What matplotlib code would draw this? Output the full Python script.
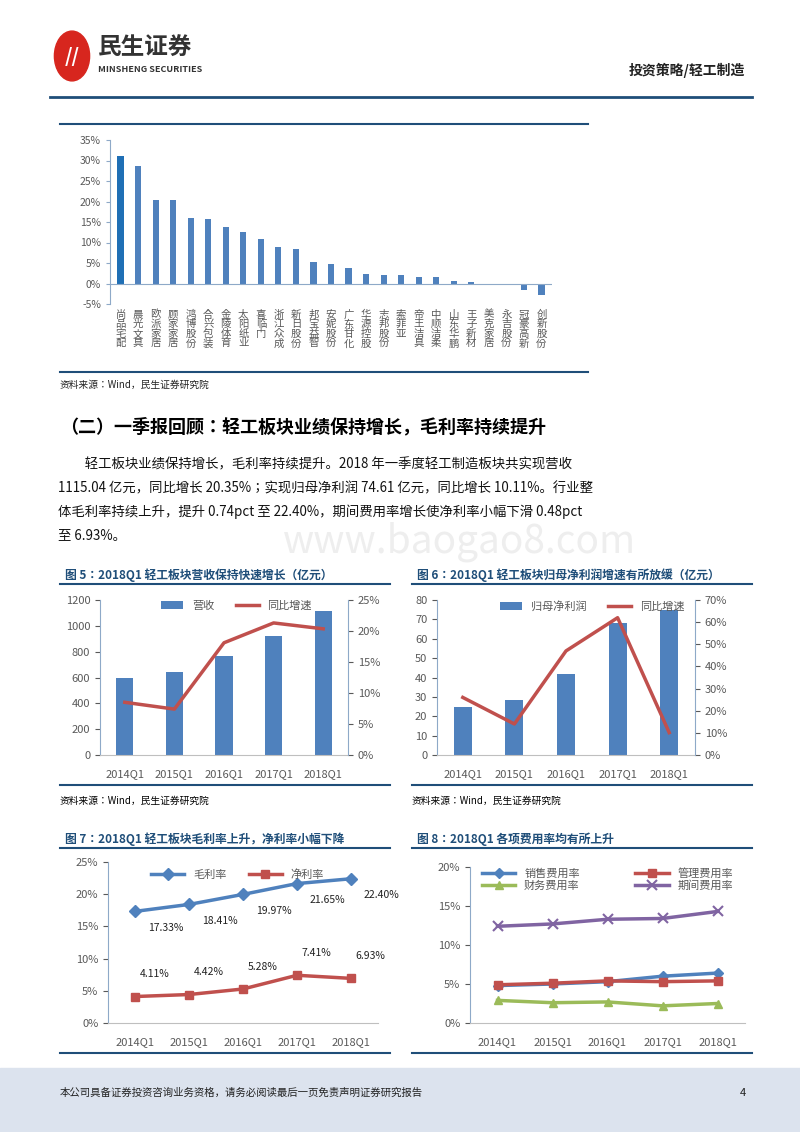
import matplotlib
matplotlib.use("Agg")
import matplotlib.pyplot as plt
from matplotlib import font_manager as fm
from matplotlib.patches import Rectangle, Circle
from matplotlib.lines import Line2D
import numpy as np

names = sorted({f.name for f in fm.fontManager.ttflist if 'CJK' in f.name})
sans = next((n for n in names if 'Sans' in n and 'SC' in n), None) or next((n for n in names if 'Sans' in n), None) or (names[0] if names else 'DejaVu Sans')
serif = next((n for n in names if 'Serif' in n and 'SC' in n), None) or sans
plt.rcParams['font.family'] = [sans, 'DejaVu Sans']

companies = ['尚品宅配','晨光文具','欧派家居','顾家家居','鸿博股份','合兴包装','金陵体育','太阳纸业','喜临门',
             '浙江众成','新日股份','邦宝益智','安妮股份','广东甘化','华源控股','志邦股份','索菲亚','帝王洁具',
             '中顺洁柔','山东华鹏','王子新材','美克家居','永吉股份','冠豪高新','创新股份']
company_growth = [31.2,28.6,20.3,20.3,15.9,15.7,13.9,12.5,10.9,8.8,8.3,5.3,4.8,3.9,2.3,2.1,2.0,1.5,1.5,0.7,0.4,0.0,-0.3,-1.5,-2.8]

quarters = ['2014Q1','2015Q1','2016Q1','2017Q1','2018Q1']
revenue = [600,645,765,925,1115.04]
revenue_yoy = [8.5,7.4,18.1,21.3,20.35]
profit = [25,28.5,42,68,74.61]
profit_yoy = [26,14,47,62,10.11]
gross_margin = [17.33,18.41,19.97,21.65,22.40]
net_margin = [4.11,4.42,5.28,7.41,6.93]
sales_exp = [4.8,5.0,5.3,6.0,6.4]
mgmt_exp = [4.9,5.1,5.4,5.3,5.4]
fin_exp = [2.9,2.6,2.7,2.2,2.5]
period_exp = [12.4,12.7,13.3,13.4,14.3]

W, H = 800, 1132
fig = plt.figure(figsize=(8, 11.32), dpi=100)
BLUE = '#4F81BD'; RED = '#C0504D'; GREEN = '#9BBB59'; PURPLE = '#8064A2'
DARK = '#1F4E79'; GRAY = '#595959'

def axpx(x0, y0, x1, y1, **kw):
    return fig.add_axes([x0/W, 1-y1/H, (x1-x0)/W, (y1-y0)/H], **kw)

def hline(x0, x1, y, color=DARK, lw=2):
    fig.add_artist(Line2D([x0/W, x1/W], [1-y/H, 1-y/H], color=color, lw=lw))

def txt(x, y, s, **kw):
    fig.text(x/W, 1-y/H, s, **kw)

# Header
fig.add_artist(Circle((72/W, 1-56/H), 0.022, transform=fig.transFigure, color='#D7261E'))
txt(72, 56, '//', ha='center', va='center', color='white', fontsize=14, fontweight='bold', style='italic')
txt(98, 48, '民生证券', fontsize=17, fontweight='bold', color='#333333', va='center')
txt(98, 70, 'MINSHENG SECURITIES', fontsize=6.5, fontweight='bold', color='#333333', va='center')
txt(745, 70, '投资策略/轻工制造', fontsize=10, fontweight='bold', ha='right', va='center', color='#222222', family=serif)
hline(50, 752, 97, DARK, 2)

# Top chart
hline(60, 588, 124, DARK, 1.5)
hline(60, 588, 372, DARK, 1.5)
ax = axpx(110, 140, 552, 304)
x = np.arange(len(companies))
cols = ['#1F6FB5'] + [BLUE]*(len(companies)-1)
ax.bar(x, company_growth, width=0.35, color=cols)
ax.set_ylim(-5, 35); ax.set_xlim(-0.6, len(companies)-0.4)
ax.set_yticks(range(-5, 36, 5))
ax.set_yticklabels([f'{v}%' for v in range(-5, 36, 5)], fontsize=7.5, color=GRAY)
ax.set_xticks(x); ax.set_xticklabels(['\n'.join(c) for c in companies], fontsize=7.5, color=GRAY, linespacing=0.95, va='top')
ax.spines[['top','right','bottom']].set_visible(False)
ax.spines['left'].set_color('#8EA9C8')
ax.axhline(0, color='#8EA9C8', lw=0.8)
ax.tick_params(axis='x', length=0, pad=4)
ax.tick_params(axis='y', length=3, color='#8EA9C8')
txt(60, 385, '资料来源：Wind，民生证券研究院', fontsize=7, va='center', color='#222222', family=serif)

# Section text
txt(60, 427, '（二）一季报回顾：轻工板块业绩保持增长，毛利率持续提升', fontsize=13, fontweight='bold', va='center', family=serif)
para = ['　　轻工板块业绩保持增长，毛利率持续提升。2018 年一季度轻工制造板块共实现营收',
        '1115.04 亿元，同比增长 20.35%；实现归母净利润 74.61 亿元，同比增长 10.11%。行业整',
        '体毛利率持续上升，提升 0.74pct 至 22.40%，期间费用率增长使净利率小幅下滑 0.48pct',
        '至 6.93%。']
for i, s in enumerate(para):
    txt(58, 464 + i*24, s, fontsize=9.6, va='center', color='#111111', family=serif)
txt(460, 542, 'www.baogao8.com', fontsize=28, ha='center', va='center', color='#EEEEEE', zorder=-1)

def chart_title(x0, x1, y, s):
    txt(x0+5, y, s, fontsize=8.5, fontweight='bold', color=DARK, va='center', family=serif)
    hline(x0, x1, y+9, DARK, 1.5)

def style(ax):
    for s in ['top','right']:
        ax.spines[s].set_visible(False)
    ax.spines['left'].set_color('#8EA9C8'); ax.spines['bottom'].set_color('#BFBFBF')
    ax.tick_params(colors=GRAY, labelsize=8)
    ax.tick_params(axis='x', length=0, pad=10)

# Fig 5
chart_title(60, 390, 575, '图 5：2018Q1 轻工板块营收保持快速增长（亿元）')
ax = axpx(100, 600, 348, 755)
xs = np.arange(5)
ax.bar(xs, revenue, width=0.35, color=BLUE, label='营收')
ax.set_ylim(0, 1200); ax.set_yticks(range(0, 1201, 200)); ax.set_xlim(-0.5, 4.5)
ax.set_xticks(xs); ax.set_xticklabels(quarters)
style(ax)
ax2 = ax.twinx()
ax2.plot(xs, revenue_yoy, color=RED, lw=2.5, label='同比增速')
ax2.set_ylim(0, 25); ax2.set_yticks(range(0, 26, 5)); ax2.set_yticklabels([f'{v}%' for v in range(0, 26, 5)])
for s in ['top','left','bottom']: ax2.spines[s].set_visible(False)
ax2.spines['right'].set_color('#8EA9C8'); ax2.tick_params(colors=GRAY, labelsize=8)
h1, l1 = ax.get_legend_handles_labels(); h2, l2 = ax2.get_legend_handles_labels()
ax.legend(h1+h2, l1+l2, loc='upper center', ncol=2, frameon=False, fontsize=8, bbox_to_anchor=(0.55, 1.06), labelcolor=GRAY)
hline(60, 390, 785, DARK, 1.5)
txt(60, 801, '资料来源：Wind，民生证券研究院', fontsize=7, va='center', family=serif)

# Fig 6
chart_title(412, 752, 575, '图 6：2018Q1 轻工板块归母净利润增速有所放缓（亿元）')
ax = axpx(437, 600, 695, 755)
ax.bar(xs, profit, width=0.35, color=BLUE, label='归母净利润')
ax.set_ylim(0, 80); ax.set_yticks(range(0, 81, 10)); ax.set_xlim(-0.5, 4.5)
ax.set_xticks(xs); ax.set_xticklabels(quarters)
style(ax)
ax2 = ax.twinx()
ax2.plot(xs, profit_yoy, color=RED, lw=2.5, label='同比增速')
ax2.set_ylim(0, 70); ax2.set_yticks(range(0, 71, 10)); ax2.set_yticklabels([f'{v}%' for v in range(0, 71, 10)])
for s in ['top','left','bottom']: ax2.spines[s].set_visible(False)
ax2.spines['right'].set_color('#8EA9C8'); ax2.tick_params(colors=GRAY, labelsize=8)
h1, l1 = ax.get_legend_handles_labels(); h2, l2 = ax2.get_legend_handles_labels()
ax.legend(h1+h2, l1+l2, loc='upper center', ncol=2, frameon=False, fontsize=8, bbox_to_anchor=(0.6, 1.06), labelcolor=GRAY)
hline(412, 752, 785, DARK, 1.5)
txt(412, 801, '资料来源：Wind，民生证券研究院', fontsize=7, va='center', family=serif)

# Fig 7
chart_title(60, 390, 839, '图 7：2018Q1 轻工板块毛利率上升，净利率小幅下降')
ax = axpx(108, 862, 378, 1023)
ax.plot(xs, gross_margin, color=BLUE, lw=2.5, marker='D', ms=6, label='毛利率')
ax.plot(xs, net_margin, color=RED, lw=2.5, marker='s', ms=6, label='净利率')
ax.set_ylim(0, 25); ax.set_yticks(range(0, 26, 5)); ax.set_yticklabels([f'{v}%' for v in range(0, 26, 5)])
ax.set_xlim(-0.5, 4.5); ax.set_xticks(xs); ax.set_xticklabels(quarters)
style(ax)
for i in range(5):
    ax.annotate(f'{gross_margin[i]:.2f}%', (xs[i], gross_margin[i]), xytext=(22, -14), textcoords='offset points',
                ha='center', fontsize=7.5, color='#222222')
    ax.annotate(f'{net_margin[i]:.2f}%', (xs[i], net_margin[i]), xytext=(14, 14), textcoords='offset points',
                ha='center', fontsize=7.5, color='#222222')
ax.legend(loc='upper center', ncol=2, frameon=False, fontsize=8, bbox_to_anchor=(0.48, 1.02), labelcolor=GRAY,
          handlelength=3)
hline(60, 390, 1053, DARK, 1.5)

# Fig 8
chart_title(412, 752, 839, '图 8：2018Q1 各项费用率均有所上升')
ax = axpx(470, 867, 745, 1023)
l_s, = ax.plot(xs, sales_exp, color=BLUE, lw=2.5, marker='D', ms=5, label='销售费用率')
l_m, = ax.plot(xs, mgmt_exp, color=RED, lw=2.5, marker='s', ms=6, label='管理费用率')
l_f, = ax.plot(xs, fin_exp, color=GREEN, lw=2.5, marker='^', ms=6, label='财务费用率')
l_p, = ax.plot(xs, period_exp, color=PURPLE, lw=2.5, marker='x', ms=7, mew=1.5, label='期间费用率')
ax.set_ylim(0, 20); ax.set_yticks(range(0, 21, 5)); ax.set_yticklabels([f'{v}%' for v in range(0, 21, 5)])
ax.set_xlim(-0.5, 4.5); ax.set_xticks(xs); ax.set_xticklabels(quarters)
style(ax)
ax.legend([l_s, l_f, l_m, l_p], ['销售费用率', '财务费用率', '管理费用率', '期间费用率'],
          loc='upper center', ncol=2, frameon=False, fontsize=8, bbox_to_anchor=(0.5, 1.06), labelcolor=GRAY,
          columnspacing=5, handlelength=3, labelspacing=0.2)
hline(412, 752, 1053, DARK, 1.5)

# Footer
fig.add_artist(Rectangle((0, 0), 1, 1-1068/H, transform=fig.transFigure, color='#DCE3EE', zorder=-2))
txt(60, 1093, '本公司具备证券投资咨询业务资格，请务必阅读最后一页免责声明证券研究报告', fontsize=7.5, va='center', color='#222222')
txt(740, 1093, '4', fontsize=8, va='center', color='#222222')

fig.savefig('out.png', dpi=100)
